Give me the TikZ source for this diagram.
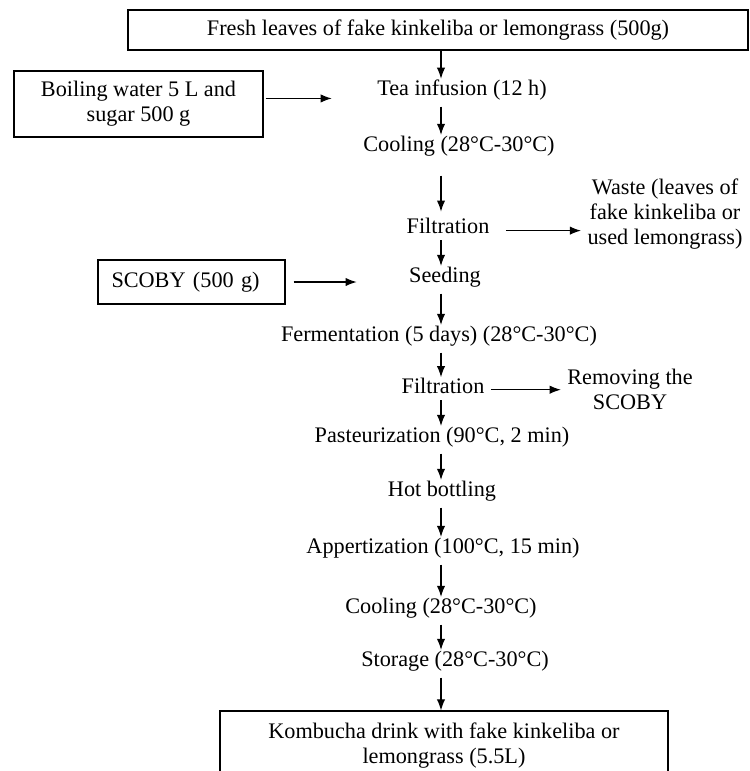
\documentclass[tikz,border=0pt]{standalone}
\usepackage{fontspec}
\setmainfont{Liberation Serif}
\usetikzlibrary{arrows.meta}
\def\u{0.54pt}
\tikzset{
    box/.style={draw, line width=0.6pt, align=center},
    step text/.style={align=center},
    flow/.style={semithick, -{Latex[length=6pt,width=4.5pt]}},
    down/.style={flow, shorten >=-3pt}
}
\begin{document}
\begin{tikzpicture}[x=0.54pt, y=-0.54pt, font=\fontsize{12}{13.5}\selectfont]
        \useasboundingbox (0,0) rectangle (750,771);
        \coordinate (spine) at (441,0);
        \node[box, minimum width=620*\u, minimum height=40*\u] (fresh) at (438,30) {Fresh leaves of fake kinkeliba or lemongrass (500g)};
        \node[box, minimum width=249*\u, minimum height=66*\u] (boil) at (138.5,104) {Boiling water 5 L and\\sugar 500 g};
        \node[step text] (tea) at (462,90) {Tea infusion (12 h)};
        \node[step text] (cool1) at (459,146) {Cooling (28°C-30°C)};
        \node[step text] (filt1) at (448,226) {Filtration};
        \node[step text] (waste) at (665,214) {Waste (leaves of\\fake kinkeliba or\\used lemongrass)};
        \node[step text] (seed) at (445,277) {Seeding};
        \node[box, minimum width=187*\u, minimum height=44*\u, text width=160*\u, align=left] (scoby) at (191.5,282) {SCOBY (500 g)};
        \node[step text] (ferm) at (439,336) {Fermentation (5 days) (28°C-30°C)};
        \node[step text] (filt2) at (443,386) {Filtration};
        \node[step text] (remove) at (630,389) {Removing the\\SCOBY};
        \node[step text] (past) at (442,437) {Pasteurization (90°C, 2 min)};
        \node[step text] (hot) at (442,491) {Hot bottling};
        \node[step text] (app) at (443,548) {Appertization (100°C, 15 min)};
        \node[step text] (cool2) at (441,608) {Cooling (28°C-30°C)};
        \node[step text] (store) at (455,661) {Storage (28°C-30°C)};
        \node[box, minimum width=448*\u, minimum height=70*\u] (komb) at (444,746) {Kombucha drink with fake kinkeliba or\\lemongrass (5.5L)};

        % main line
        \draw[down] (fresh.south -| spine) -- (tea.north -| spine);
        \draw[down] (tea.south -| spine) -- (cool1.north -| spine);
        \draw[down, shorten <=13*\u, shorten >=0pt] (cool1.south -| spine) -- (filt1.north -| spine);
        \draw[down] (filt1.south -| spine) -- (seed.north -| spine);
        \draw[down] (seed.south -| spine) -- (ferm.north -| spine);
        \draw[down] (ferm.south -| spine) -- (filt2.north -| spine);
        \draw[down] (filt2.south -| spine) -- (past.north -| spine);
        \draw[down] (past.south -| spine) -- (hot.north -| spine);
        \draw[down] (hot.south -| spine) -- (app.north -| spine);
        \draw[down] (app.south -| spine) -- (cool2.north -| spine);
        \draw[down] (cool2.south -| spine) -- (store.north -| spine);
        \draw[flow] (store.south -| spine) -- (komb.north -| spine);

        % side inputs and outputs
        \draw[flow, shorten <=2*\u, shorten >=39*\u] ([yshift=3pt]boil.east) -- ([yshift=3pt]boil.east -| tea.west);
        \draw[flow, shorten <=8*\u, shorten >=46*\u] (scoby.east) -- (scoby.east -| seed.west);
        \draw[flow, shorten <=10*\u] ([yshift=-2.5pt]filt1.east) -- ([yshift=-2.5pt]filt1.east -| waste.west);
        \draw[flow] ([yshift=-2pt]filt2.east) -- ([yshift=-2pt]filt2.east -| remove.west);
    \end{tikzpicture}
\end{document}
